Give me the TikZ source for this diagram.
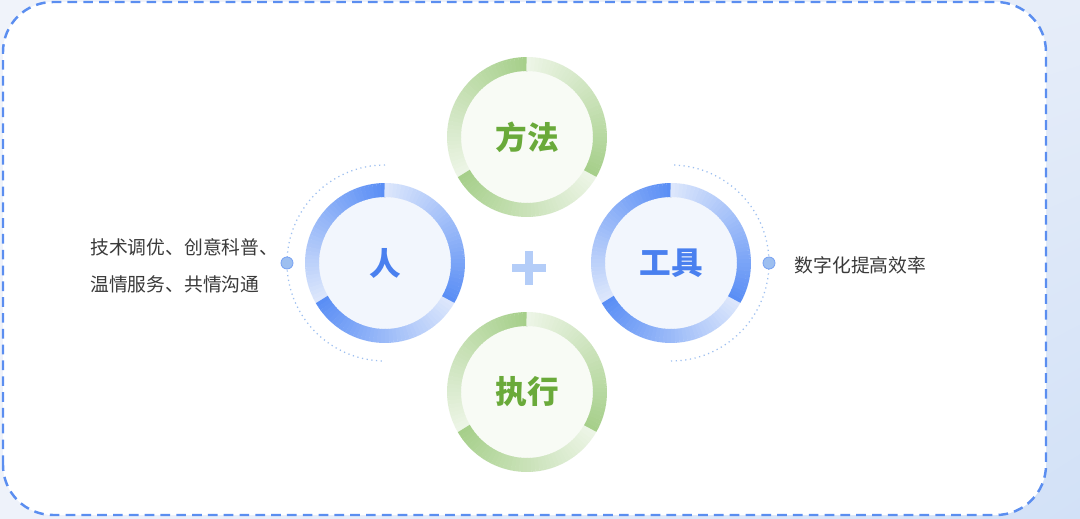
\documentclass[tikz,border=0pt]{standalone}
\usepackage{fontspec}
\setmainfont{Noto Sans CJK SC}
\usepackage{xcolor}
\usepackage{tikz}
\usetikzlibrary{positioning, shadings}

\definecolor{bluedark}{HTML}{5A8EF5}
\definecolor{bluelight}{HTML}{E4ECFC}
\definecolor{bluedisk}{HTML}{F2F6FD}
\definecolor{bluetext}{HTML}{4A80EF}
\definecolor{greendark}{HTML}{A6CF8A}
\definecolor{greenlight}{HTML}{F1F7EC}
\definecolor{greendisk}{HTML}{F8FBF5}
\definecolor{greentext}{HTML}{6AAA3A}
\definecolor{framecol}{HTML}{5B8EF0}
\definecolor{dotcol}{HTML}{9DBFF0}
\definecolor{plusblue}{HTML}{B4CDF8}
\definecolor{textgray}{HTML}{3A3A3A}
\definecolor{bgul}{HTML}{F0F3FA}
\definecolor{bgur}{HTML}{E6EDF9}
\definecolor{bgll}{HTML}{EEF2FA}
\definecolor{bglr}{HTML}{D2E1F7}

\newcommand{\gradring}[3]{%
  \foreach \s in {90,210,330}
    \foreach \k in {0,...,39} {
      \pgfmathtruncatemacro{\p}{100-2.4*\k}
      \draw[ring, draw={#2!\p!#3}] (#1) ++(\s+3*\k:73)
        arc[start angle=\s+3*\k, end angle=\s+3*\k+3.4, radius=73];
    }
  \foreach \s in {90,210,330}
    \draw[spoke] (#1) -- ++(\s:66);
}

\begin{document}
\begin{tikzpicture}[x=0.02cm, y=0.02cm,
  disk/.style={circle, minimum size=2.64cm, inner sep=0pt, fill=#1disk,
               text=#1text, font=\fontsize{18}{20}\selectfont\bfseries},
  ring/.style={line width=0.28cm},
  spoke/.style={black, opacity=0.04, line width=0.6pt},
  dotline/.style={dotted, dotcol, line width=0.7pt},
  knob/.style={circle, minimum size=0.24cm, inner sep=0pt, fill=dotcol, draw=framecol!80, line width=0.5pt},
  desc/.style={inner sep=0pt, text=textgray, font=\fontsize{10.7}{21}\selectfont, align=left},
  plusbar/.style={plusblue, line width=0.16cm},
]
  \useasboundingbox (0,0) rectangle (1080,518);
  \shade[upper left=bgul, upper right=bgur, lower left=bgll, lower right=bglr]
    (0,0) rectangle (1080,518);
  \draw[framecol, fill=white, line width=1.4pt, dash pattern=on 5.5pt off 3.5pt, rounded corners=1cm]
    (3,3) rectangle (1046,516);

  \node[disk=green] (fangfa)  at (527,381) {方法};
  \node[disk=green] (zhixing) at (527,126) {执行};
  \node[disk=blue]  (ren)     at (385,255) {人};
  \node[disk=blue]  (gongju)  at (671,255) {工具};

  \gradring{fangfa}{greendark}{greenlight}
  \gradring{zhixing}{greendark}{greenlight}
  \gradring{ren}{bluedark}{bluelight}
  \gradring{gongju}{bluedark}{bluelight}

  \draw[dotline] (ren) ++(90:98) arc[start angle=90, end angle=270, radius=98];
  \draw[dotline] (gongju) ++(-90:98) arc[start angle=-90, end angle=90, radius=98];
  \node[knob] (knobL) at (287,255) {};
  \node[knob] (knobR) at (769,255) {};

  \node[desc, left=0.04cm of knobL, yshift=-0.06cm] (descL) {技术调优、创意科普、\\温情服务、共情沟通};
  \node[desc, right=0.38cm of knobR, yshift=-0.05cm] (descR) {数字化提高效率};

  \coordinate (plus) at (529,250);
  \draw[plusbar] (plus) ++(-17,0) -- ++(34,0);
  \draw[plusbar] (plus) ++(0,-17) -- ++(0,34);
\end{tikzpicture}
\end{document}
